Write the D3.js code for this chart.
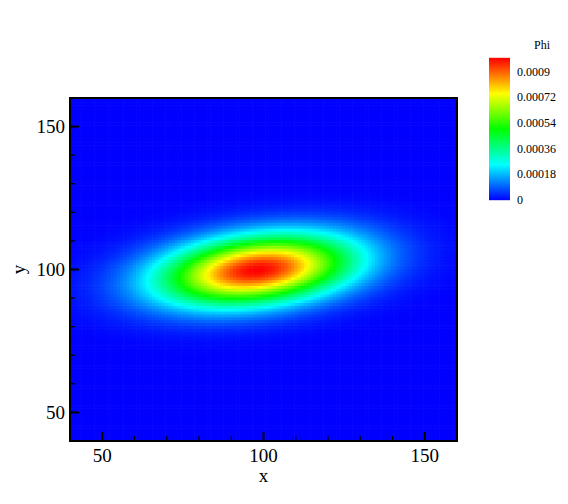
<!DOCTYPE html>
<html>
<head>
<meta charset="utf-8">
<script src="https://cdn.jsdelivr.net/npm/d3@7"></script>
<style>
  body { margin: 0; background: #fff; }
  svg { display: block; font-family: "Liberation Serif", "Times New Roman", serif; }
</style>
</head>
<body>
<svg id="svg" width="568" height="504"></svg>
<script>
// axis ranges and ticks
const xDomain = [40, 160];
const yDomain = [40, 160];
const xMajorTicks = [50, 100, 150];
const yMajorTicks = [50, 100, 150];
const xMinorTicks = [60, 70, 80, 90, 110, 120, 130, 140];
const yMinorTicks = [60, 70, 80, 90, 110, 120, 130, 140];

// Phi field: gaussian blob (peak, centre, spreads, tilt in degrees)
const phiPeak = [0.000995];
const phiCenter = [98, 100];
const phiSigma = [20.7, 8.0];
const phiTilt = [7.6];

// colour legend
const legendTicks = [0, 0.00018, 0.00036, 0.00054, 0.00072, 0.0009];
const legendLabels = ["0", "0.00018", "0.00036", "0.00054", "0.00072", "0.0009"];
const rainbowStops = [0, 0.25, 0.5, 0.75, 1];
const rainbowColors = ["#0000ff", "#00ffff", "#00ff00", "#ffff00", "#ff0000"];

const svg = d3.select("#svg");

const x = d3.scaleLinear().domain(xDomain).range([70, 457]);
const y = d3.scaleLinear().domain(yDomain).range([441, 98]);
const color = d3.scaleLinear()
    .domain(rainbowStops.map(f => f * phiPeak[0]))
    .range(rainbowColors)
    .clamp(true);

// grid nodes every 1 unit
const nodesX = d3.range(xDomain[0], xDomain[1] + 1, 1);
const nodesY = d3.range(yDomain[0], yDomain[1] + 1, 1);
const th = phiTilt[0] * Math.PI / 180;
function phi(px, py) {
    const dx = px - phiCenter[0], dy = py - phiCenter[1];
    const u = dx * Math.cos(th) + dy * Math.sin(th);
    const v = -dx * Math.sin(th) + dy * Math.cos(th);
    return phiPeak[0] * Math.exp(-0.5 * (u * u / (phiSigma[0] * phiSigma[0]) + v * v / (phiSigma[1] * phiSigma[1])));
}
const cells = [];
nodesY.forEach(j => nodesX.forEach(i => cells.push({ i: i, j: j, v: phi(i, j) })));

svg.append("clipPath").attr("id", "plotclip")
    .append("rect")
    .attr("x", x(xDomain[0])).attr("y", y(yDomain[1]))
    .attr("width", x(xDomain[1]) - x(xDomain[0]))
    .attr("height", y(yDomain[0]) - y(yDomain[1]));

const field = svg.append("g").attr("clip-path", "url(#plotclip)");
field.selectAll("rect")
    .data(cells)
    .join("rect")
    .attr("x", d => x(d.i - 0.5))
    .attr("y", d => y(d.j + 0.5))
    .attr("width", x(1) - x(0) + 0.6)
    .attr("height", y(0) - y(1) + 0.6)
    .attr("fill", d => color(d.v));

// ticks (inward)
const axes = svg.append("g").attr("stroke", "black").attr("stroke-width", 2);
axes.selectAll(".xmaj").data(xMajorTicks).join("line")
    .attr("x1", d => x(d)).attr("x2", d => x(d))
    .attr("y1", y(yDomain[0])).attr("y2", y(yDomain[0]) - 9);
axes.selectAll(".xmin").data(xMinorTicks).join("line")
    .attr("x1", d => x(d)).attr("x2", d => x(d))
    .attr("y1", y(yDomain[0])).attr("y2", y(yDomain[0]) - 5)
    .attr("stroke-width", 1.2);
axes.selectAll(".ymaj").data(yMajorTicks).join("line")
    .attr("y1", d => y(d)).attr("y2", d => y(d))
    .attr("x1", x(xDomain[0])).attr("x2", x(xDomain[0]) + 9);
axes.selectAll(".ymin").data(yMinorTicks).join("line")
    .attr("y1", d => y(d)).attr("y2", d => y(d))
    .attr("x1", x(xDomain[0])).attr("x2", x(xDomain[0]) + 5)
    .attr("stroke-width", 1.2);

svg.append("rect")
    .attr("x", x(xDomain[0])).attr("y", y(yDomain[1]))
    .attr("width", x(xDomain[1]) - x(xDomain[0]))
    .attr("height", y(yDomain[0]) - y(yDomain[1]))
    .attr("fill", "none").attr("stroke", "black").attr("stroke-width", 2);

// tick labels
svg.selectAll(".xlab").data(xMajorTicks).join("text")
    .attr("x", d => x(d)).attr("y", 462)
    .attr("text-anchor", "middle").attr("font-size", 19)
    .text(d => d);
svg.selectAll(".ylab").data(yMajorTicks).join("text")
    .attr("x", 65).attr("y", d => y(d) + 6.5)
    .attr("text-anchor", "end").attr("font-size", 19)
    .text(d => d);

svg.append("text").attr("x", x(100)).attr("y", 482)
    .attr("text-anchor", "middle").attr("font-size", 19).text("x");
svg.append("text")
    .attr("transform", "translate(25," + y(100) + ")rotate(-90)")
    .attr("text-anchor", "middle").attr("font-size", 19).text("y");

// colour legend
const ly = d3.scaleLinear().domain([0, phiPeak[0]]).range([200, 58]);
const legend = svg.append("g");
legend.selectAll("rect")
    .data(d3.range(0, 142, 1))
    .join("rect")
    .attr("x", 489).attr("width", 21)
    .attr("y", d => 200 - d - 1.2).attr("height", 1.4)
    .attr("fill", d => color(ly.invert(200 - d - 0.5)));
legend.selectAll("text")
    .data(legendTicks)
    .join("text")
    .attr("x", 517).attr("y", d => ly(d) + 4)
    .attr("font-size", 12)
    .text((d, i) => legendLabels[i]);
svg.append("text").attr("x", 542).attr("y", 49)
    .attr("text-anchor", "middle").attr("font-size", 12).text("Phi");
</script>
</body>
</html>
